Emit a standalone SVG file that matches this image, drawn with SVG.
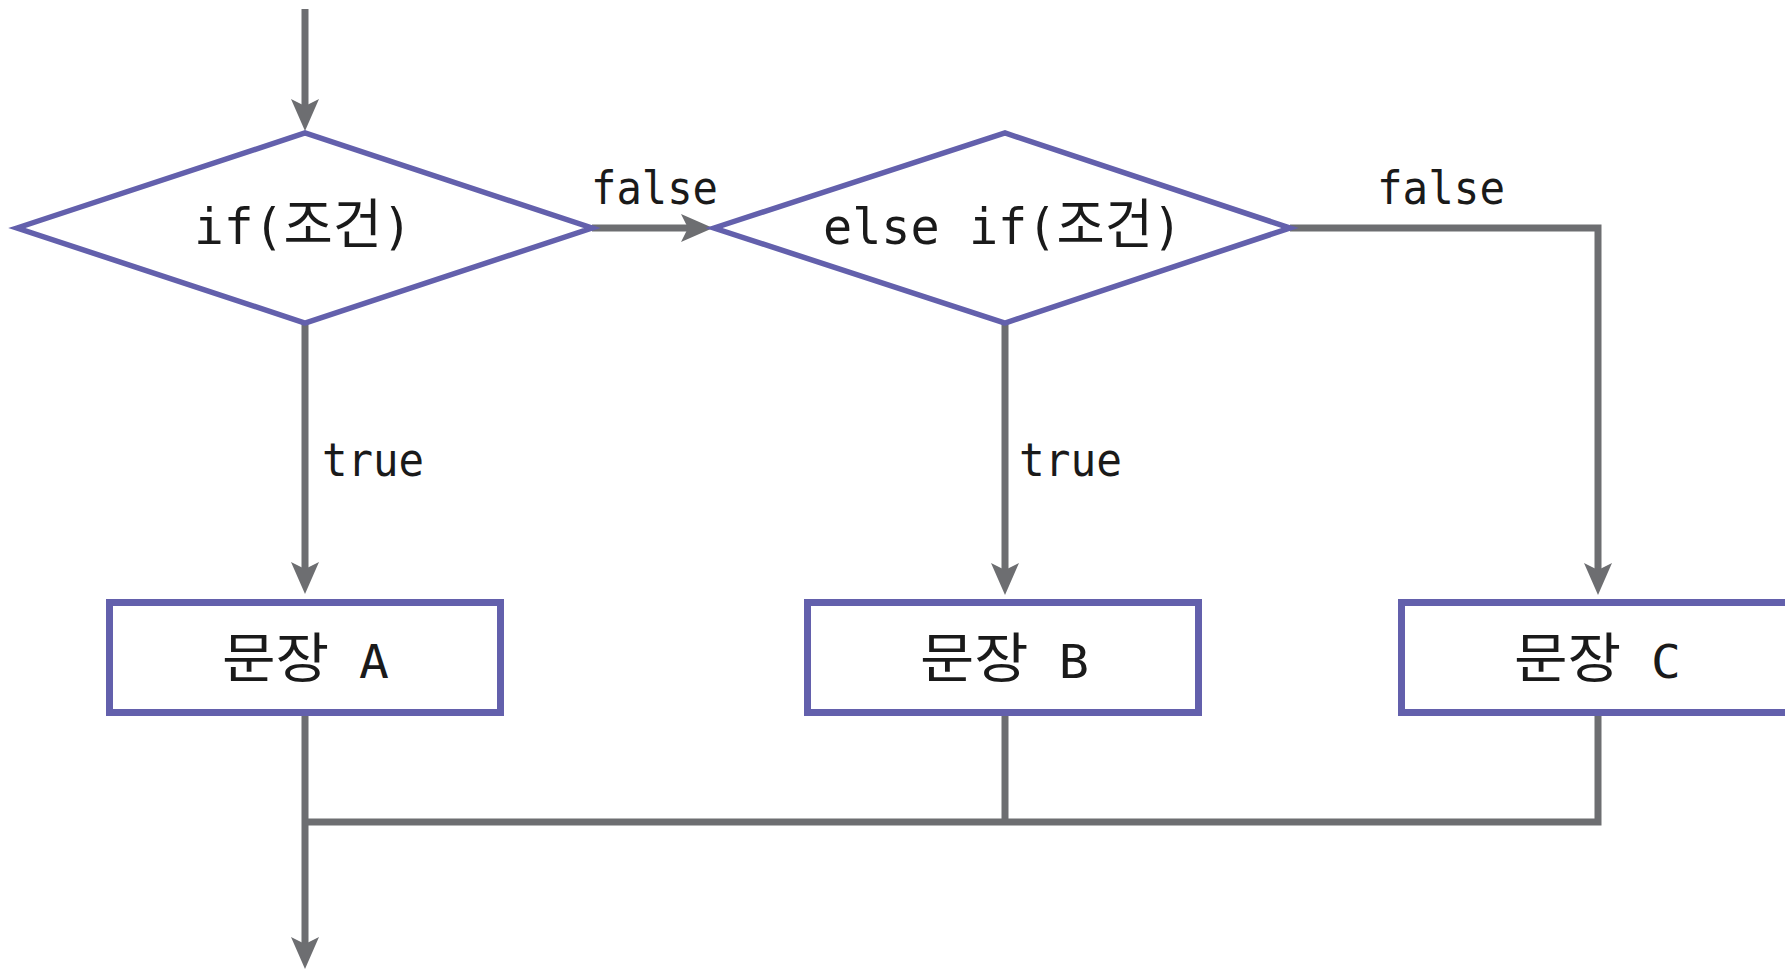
<svg xmlns="http://www.w3.org/2000/svg" width="1785" height="969" viewBox="0 0 1785 969">
<style>
.node{fill:#ffffff;stroke:#6360ac;}
.dia{stroke-width:5.5;stroke-linejoin:miter;}
.box{stroke-width:7;}
.conn{fill:none;stroke:#6d6e71;stroke-width:7;}
.lbl{font-family:"DejaVu Sans Mono","Noto Sans CJK KR",monospace;font-size:46px;fill:#1a1a1a;}
.big{font-size:50px;}
.ko{font-family:"Noto Sans CJK KR",sans-serif;font-size:54px;}
</style>
<defs>
<marker id="arr" viewBox="0 0 32 28" refX="22" refY="14" markerWidth="32" markerHeight="28" markerUnits="userSpaceOnUse" orient="auto">
<path d="M0,0 L32,14 L0,28 L7,14 Z" fill="#6d6e71"/>
</marker>
</defs>
<rect width="1785" height="969" fill="#ffffff"/>
<g id="connectors">
<path class="conn" d="M305,9 V121" marker-end="url(#arr)"/>
<path class="conn" d="M592,228 H703" marker-end="url(#arr)"/>
<path class="conn" d="M305,323 V584" marker-end="url(#arr)"/>
<path class="conn" d="M1290,228 H1598 V585" marker-end="url(#arr)"/>
<path class="conn" d="M1005,323 V585" marker-end="url(#arr)"/>
<path class="conn" d="M305,716 V959" marker-end="url(#arr)"/>
<path class="conn" d="M1005,716 V822"/>
<path class="conn" d="M1598,716 V822 H305"/>
</g>
<g id="cond1">
<polygon class="node dia" points="17,228 305,133 592,228 305,323"/>
<text class="lbl big" x="194" y="244" textLength="218" lengthAdjust="spacingAndGlyphs">if(<tspan class="ko">조건</tspan>)</text>
</g>
<g id="cond2">
<polygon class="node dia" points="714,228 1005,133 1290,228 1005,323"/>
<text class="lbl big" x="823" y="244" textLength="359" lengthAdjust="spacingAndGlyphs">else if(<tspan class="ko">조건</tspan>)</text>
</g>
<g id="boxA">
<rect class="node box" x="109.5" y="602.5" width="391" height="110"/>
<text class="lbl" x="222" y="678" textLength="167" lengthAdjust="spacingAndGlyphs"><tspan class="ko">문장</tspan> A</text>
</g>
<g id="boxB">
<rect class="node box" x="807.5" y="602.5" width="391" height="110"/>
<text class="lbl" x="920" y="678" textLength="169" lengthAdjust="spacingAndGlyphs"><tspan class="ko">문장</tspan> B</text>
</g>
<g id="boxC">
<rect class="node box" x="1401.5" y="602.5" width="391" height="110"/>
<text class="lbl" x="1514" y="678" textLength="167" lengthAdjust="spacingAndGlyphs"><tspan class="ko">문장</tspan> C</text>
</g>
<g id="labels">
<text class="lbl" x="591" y="204" textLength="127" lengthAdjust="spacingAndGlyphs">false</text>
<text class="lbl" x="1377" y="204" textLength="128" lengthAdjust="spacingAndGlyphs">false</text>
<text class="lbl" x="322" y="476" textLength="102" lengthAdjust="spacingAndGlyphs">true</text>
<text class="lbl" x="1019" y="476" textLength="103" lengthAdjust="spacingAndGlyphs">true</text>
</g>
</svg>
